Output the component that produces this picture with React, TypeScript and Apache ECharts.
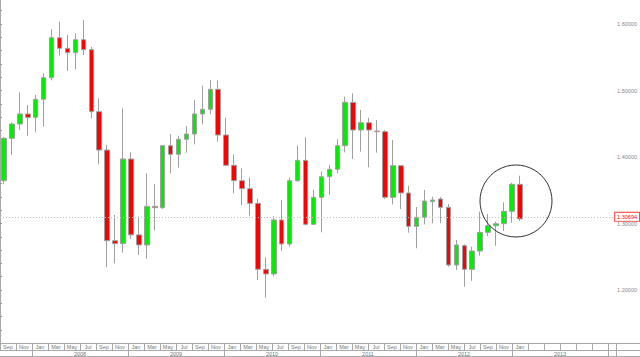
import React, { useEffect, useRef } from "react";
import * as echarts from "echarts";

// Monthly candles, Sep 2007 .. Feb 2014 (last slots empty)
const categories = [
  "Sep 2007", "Oct 2007", "Nov 2007", "Dec 2007",
  "Jan 2008", "Feb 2008", "Mar 2008", "Apr 2008", "May 2008", "Jun 2008", "Jul 2008", "Aug 2008", "Sep 2008", "Oct 2008", "Nov 2008", "Dec 2008",
  "Jan 2009", "Feb 2009", "Mar 2009", "Apr 2009", "May 2009", "Jun 2009", "Jul 2009", "Aug 2009", "Sep 2009", "Oct 2009", "Nov 2009", "Dec 2009",
  "Jan 2010", "Feb 2010", "Mar 2010", "Apr 2010", "May 2010", "Jun 2010", "Jul 2010", "Aug 2010", "Sep 2010", "Oct 2010", "Nov 2010", "Dec 2010",
  "Jan 2011", "Feb 2011", "Mar 2011", "Apr 2011", "May 2011", "Jun 2011", "Jul 2011", "Aug 2011", "Sep 2011", "Oct 2011", "Nov 2011", "Dec 2011",
  "Jan 2012", "Feb 2012", "Mar 2012", "Apr 2012", "May 2012", "Jun 2012", "Jul 2012", "Aug 2012", "Sep 2012", "Oct 2012", "Nov 2012", "Dec 2012",
  "Jan 2013", "Feb 2013", "Mar 2013", "Apr 2013", "May 2013", "Jun 2013", "Jul 2013", "Aug 2013", "Sep 2013", "Oct 2013", "Nov 2013", "Dec 2013",
  "Jan 2014", "Feb 2014",
];

const opens = [
  1.3644, 1.4281, 1.4496, 1.4647,
  1.4596, 1.4867, 1.5193, 1.5794, 1.5634, 1.5569, 1.5764, 1.5614, 1.4682, 1.4105, 1.2742, 1.2697,
  1.3970, 1.2829, 1.2677, 1.3258, 1.3238, 1.4170, 1.4040, 1.4266, 1.4346, 1.4647, 1.4717, 1.5018,
  1.4331, 1.3875, 1.3644, 1.3524, 1.3303, 1.2311, 1.2241, 1.3053, 1.2692, 1.3644, 1.3950, 1.2987,
  1.3393, 1.3704, 1.3815, 1.4170, 1.4822, 1.4406, 1.4516, 1.4391, 1.4381, 1.3393, 1.3870, 1.3459,
  1.2957, 1.3093, 1.3328, 1.3368, 1.3243, 1.2376, 1.2667, 1.2311, 1.2586, 1.2867, 1.2967, 1.2997,
  1.3183, 1.3589,
];
const closes = [
  1.4281, 1.4496, 1.4647, 1.4596,
  1.4867, 1.5193, 1.5794, 1.5634, 1.5569, 1.5764, 1.5614, 1.4682, 1.4105, 1.2742, 1.2697, 1.3970,
  1.2829, 1.2677, 1.3258, 1.3238, 1.4170, 1.4040, 1.4266, 1.4346, 1.4647, 1.4717, 1.5018, 1.4331,
  1.3875, 1.3644, 1.3524, 1.3303, 1.2311, 1.2241, 1.3053, 1.2692, 1.3644, 1.3950, 1.2987, 1.3393,
  1.3704, 1.3815, 1.4170, 1.4822, 1.4406, 1.4516, 1.4406, 1.4381, 1.3393, 1.3870, 1.3459, 1.2957,
  1.3093, 1.3338, 1.3353, 1.3243, 1.2376, 1.2677, 1.2311, 1.2586, 1.2867, 1.2967, 1.2997, 1.3183,
  1.3589, 1.30694,
];
const lows = [
  1.3590, 1.4030, 1.4406, 1.4321,
  1.4371, 1.4456, 1.5153, 1.5524, 1.5293, 1.5318, 1.5534, 1.4581, 1.3890, 1.2341, 1.2401, 1.2561,
  1.2767, 1.2526, 1.2471, 1.2892, 1.3220, 1.3754, 1.3840, 1.4065, 1.4190, 1.4491, 1.4642, 1.4231,
  1.3860, 1.3454, 1.3278, 1.3118, 1.2150, 1.1885, 1.2206, 1.2586, 1.2652, 1.3630, 1.2970, 1.2977,
  1.2867, 1.3429, 1.3754, 1.4070, 1.3970, 1.4080, 1.3845, 1.4065, 1.3368, 1.3288, 1.3218, 1.2862,
  1.2627, 1.2987, 1.3003, 1.3003, 1.2351, 1.2301, 1.2050, 1.2140, 1.2516, 1.2812, 1.2667, 1.2887,
  1.3013, 1.3038,
];
const highs = [
  1.4300, 1.4521, 1.4972, 1.4782,
  1.4932, 1.5258, 1.5920, 1.6035, 1.5835, 1.5860, 1.6060, 1.5654, 1.4882, 1.4180, 1.3128, 1.4732,
  1.4070, 1.3103, 1.3754, 1.3594, 1.4180, 1.4346, 1.4316, 1.4466, 1.4857, 1.5073, 1.5158, 1.5150,
  1.4591, 1.4040, 1.3830, 1.3694, 1.3373, 1.2491, 1.3108, 1.3353, 1.3689, 1.4170, 1.4296, 1.3509,
  1.3779, 1.3880, 1.4266, 1.4907, 1.4957, 1.4707, 1.4591, 1.4556, 1.4406, 1.4256, 1.3880, 1.3569,
  1.3248, 1.3504, 1.3403, 1.3398, 1.3293, 1.2752, 1.2687, 1.2652, 1.3178, 1.3143, 1.3028, 1.3318,
  1.3614, 1.3719,
];

const lastPrice = 1.30694;

const monthLabels = [
  "Sep", "Nov",
  "Jan", "Mar", "May", "Jul", "Sep", "Nov",
  "Jan", "Mar", "May", "Jul", "Sep", "Nov",
  "Jan", "Mar", "May", "Jul", "Sep", "Nov",
  "Jan", "Mar", "May", "Jul", "Sep", "Nov",
  "Jan", "Mar", "May", "Jul", "Sep", "Nov",
  "Jan",
];
const yearLabels = ["2008", "2009", "2010", "2011", "2012", "2013"];

const priceLabels = [1.2, 1.3, 1.4, 1.5, 1.6];
const priceTicks = [
  1.14, 1.16, 1.18, 1.2, 1.22, 1.24, 1.26, 1.28, 1.3, 1.32, 1.34, 1.36, 1.38,
  1.4, 1.42, 1.44, 1.46, 1.48, 1.5, 1.52, 1.54, 1.56, 1.58, 1.6, 1.62,
];

const Y_MIN = 1.1203;
const Y_MAX = 1.6361;

export default function App() {
  const ref = useRef<HTMLDivElement>(null);

  useEffect(() => {
    if (!ref.current) return;
    const chart = echarts.init(ref.current, null, { renderer: "svg" });

    const candleData = opens.map((o, i) => [o, closes[i], lows[i], highs[i]]);

    // positions on the month-table axis (units: months from Sep 2007)
    const monthTickPos: number[] = [];
    for (let k = 0; k <= 76; k += 2) monthTickPos.push(k);
    monthTickPos.push(77);
    const monthLabelPos = monthLabels.map((_, i) => 1 + 2 * i);
    const yearTickPos: number[] = [];
    for (let k = 4; k <= 76; k += 12) yearTickPos.push(k);
    yearTickPos.push(77);
    const yearLabelPos = yearLabels.map((_, i) => 10 + 12 * i);

    const lineGrey = "#a8a8a8";
    const font = "'Liberation Sans', Arial, sans-serif";

    chart.setOption({
      animation: false,
      textStyle: { fontFamily: font },
      grid: [
        { left: -5, right: 21, top: 0, bottom: 14 },
        { left: 0, right: 0, top: 0, bottom: 14 },
        { left: 0, right: 24, top: 0, bottom: 14 },
      ],
      xAxis: [
        { gridIndex: 0, type: "category", data: categories, boundaryGap: true, show: false },
        {
          gridIndex: 1, type: "value", min: 0, max: 80, position: "bottom",
          axisLine: { show: true, lineStyle: { color: lineGrey, width: 1 } },
          axisTick: { show: true, customValues: monthTickPos, length: 7, lineStyle: { color: lineGrey } },
          axisLabel: {
            show: true, customValues: monthLabelPos, margin: 1, fontSize: 5.5, color: "#777",
            formatter: (v: number) => monthLabels[Math.round((v - 1) / 2)] ?? "",
          },
          splitLine: { show: false },
        },
        {
          gridIndex: 1, type: "value", min: 0, max: 80, position: "bottom", offset: 7,
          axisLine: { show: true, lineStyle: { color: lineGrey, width: 1 } },
          axisTick: { show: true, customValues: yearTickPos, length: 7, lineStyle: { color: lineGrey } },
          axisLabel: {
            show: true, customValues: yearLabelPos, margin: 1, fontSize: 5.5, color: "#777",
            formatter: (v: number) => yearLabels[Math.round((v - 10) / 12)] ?? "",
          },
          splitLine: { show: false },
        },
        {
          gridIndex: 1, type: "value", min: 0, max: 80, position: "bottom", offset: 13,
          axisLine: { show: true, lineStyle: { color: lineGrey, width: 1 } },
          axisTick: { show: false }, axisLabel: { show: false }, splitLine: { show: false },
        },
        { gridIndex: 2, type: "value", min: 0, max: 77, show: false },
      ],
      yAxis: [
        { gridIndex: 0, type: "value", min: Y_MIN, max: Y_MAX, show: false },
        { gridIndex: 1, type: "value", min: Y_MIN, max: Y_MAX, show: false },
        {
          gridIndex: 2, type: "value", min: Y_MIN, max: Y_MAX, position: "right",
          axisLine: { show: true, lineStyle: { color: lineGrey, width: 1 } },
          axisTick: { show: true, customValues: priceTicks, length: 2, lineStyle: { color: "#999" } },
          axisLabel: {
            show: true, customValues: priceLabels, margin: 4, fontSize: 5.5, color: "#888",
            formatter: (v: number) => v.toFixed(5),
          },
          splitLine: { show: false },
        },
      ],
      series: [
        {
          type: "candlestick",
          xAxisIndex: 0,
          yAxisIndex: 0,
          data: candleData,
          barWidth: 5,
          itemStyle: {
            color: "#00ee00",
            color0: "#ff0000",
            borderColor: "#a0a0a0",
            borderColor0: "#a0a0a0",
            borderWidth: 1,
          },
        },
        {
          type: "line",
          xAxisIndex: 4,
          yAxisIndex: 2,
          data: [],
          silent: true,
          markLine: {
            silent: true,
            symbol: ["none", "none"],
            lineStyle: { type: [1, 2], color: "#c0c0c0", width: 1 },
            label: {
              show: true,
              position: "end",
              distance: 2,
              formatter: lastPrice.toFixed(5),
              color: "#ff0000",
              fontSize: 5.5,
              backgroundColor: "#ffffff",
              borderColor: "#ff4444",
              borderWidth: 1,
              padding: [1, 2, 1, 2],
            },
            data: [{ yAxis: lastPrice }],
          },
        },
      ],
      graphic: [
        {
          type: "circle",
          shape: { cx: 516, cy: 201, r: 36 },
          style: { fill: "none", stroke: "#333333", lineWidth: 1 },
          z: 100,
        },
      ],
    });

    return () => chart.dispose();
  }, []);

  return (
    <div
      ref={ref}
      style={{ position: "absolute", left: 0, top: 0, width: 640, height: 357 }}
    />
  );
}
